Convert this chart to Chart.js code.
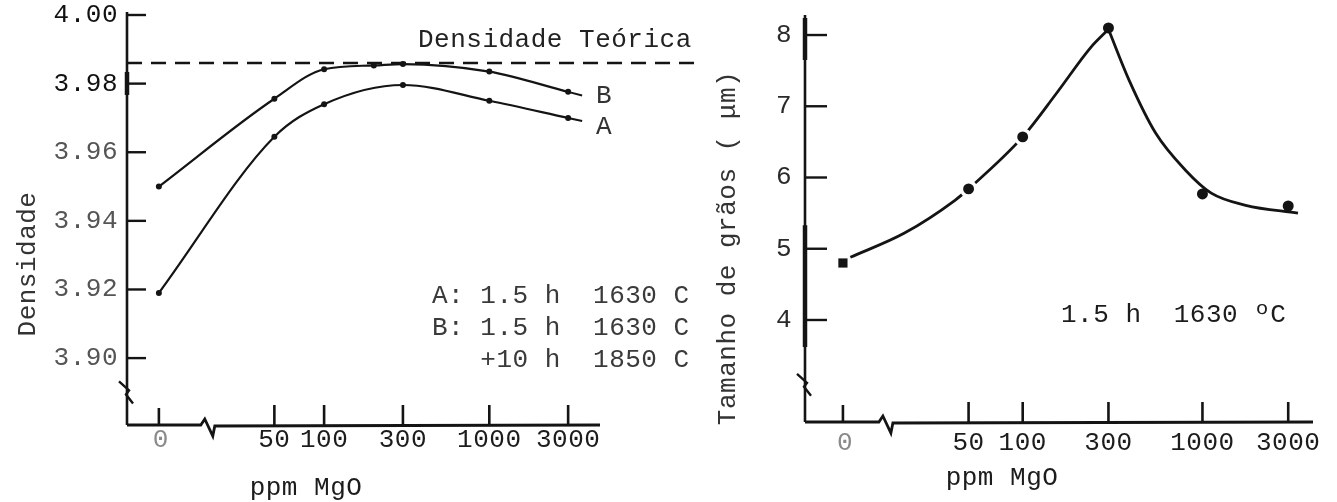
<!DOCTYPE html>
<html>
<head>
<meta charset="utf-8">
<script src="https://cdn.jsdelivr.net/npm/chart.js@4.4.1/dist/chart.umd.min.js"></script>
<style>
  body { margin: 0; background: #fff; width: 1337px; height: 502px; position: relative; overflow: hidden; }
  #densidade { position: absolute; left: 0; top: 0; }
  #grao { position: absolute; left: 668px; top: 0; }
</style>
</head>
<body>
<canvas id="densidade" width="720" height="502"></canvas>
<canvas id="grao" width="669" height="502"></canvas>
<script>
// ppm MgO on a broken log axis: 0 ppm sits where 10 ppm would be
const ppmTicks = [0, 50, 100, 300, 1000, 3000];

// density, curve A (1.5 h 1630 C) and curve B (+10 h 1850 C)
const ppmA = [0, 50, 100, 300, 1000, 3000];
const densA = [3.919, 3.9645, 3.974, 3.9796, 3.975, 3.970];
const ppmB = [0, 50, 100, 200, 300, 1000, 3000];
const densB = [3.950, 3.9756, 3.9842, 3.9853, 3.9857, 3.9835, 3.9776];
const densTeorica = 3.986;
const densTicks = [3.90, 3.92, 3.94, 3.96, 3.98, 4.00];

// grain size (um)
const ppmGrao = [0, 50, 100, 300, 1000, 3000];
const grao = [4.80, 5.84, 6.57, 8.10, 5.77, 5.60];
const graoTicks = [4, 5, 6, 7, 8];
// hand-drawn trend curve, rising and falling branches
const subidaPpm = [11, 22, 42, 50, 100, 155, 240, 300];
const subida = [4.88, 5.22, 5.68, 5.84, 6.57, 7.19, 7.83, 8.08];
const descidaPpm = [300, 390, 550, 800, 1120, 1740, 3400];
const descida = [8.08, 7.37, 6.62, 6.11, 5.78, 5.61, 5.50];

const pos = (p) => (p === 0 ? 1 : Math.log10(p));
const pontos = (xs, ys) => xs.map((p, i) => ({ x: pos(p), y: ys[i] }));

const FONTE = '26px "Liberation Mono", monospace';
const TINTA = '#141414';

function texto(ctx, str, x, y, align = 'left', cor = '#222', rot = 0) {
  ctx.save();
  ctx.translate(x, y);
  if (rot) ctx.rotate(rot);
  ctx.font = FONTE;
  if ('letterSpacing' in ctx) ctx.letterSpacing = '0.5px';
  ctx.fillStyle = cor;
  ctx.textAlign = align;
  ctx.textBaseline = 'middle';
  ctx.fillText(str, 0, 0);
  ctx.restore();
}

function traco(ctx, pts, w = 2.6) {
  ctx.beginPath();
  ctx.lineWidth = w;
  pts.forEach(([px, py], i) => (i ? ctx.lineTo(px, py) : ctx.moveTo(px, py)));
  ctx.stroke();
}

// axes with inward ticks and break marks, drawn by hand
const eixos = {
  id: 'eixos',
  afterDatasetsDraw(chart, args, o) {
    const { ctx, chartArea: a, scales: { x, y } } = chart;
    ctx.save();
    ctx.strokeStyle = TINTA;
    ctx.lineCap = 'butt';
    const x0 = a.left, y0 = a.bottom;

    // y axis
    traco(ctx, [[x0, a.top - 3], [x0, y0]]);
    (o.grosso || []).forEach(([v1, v2]) => traco(ctx, [[x0, y.getPixelForValue(v1)], [x0, y.getPixelForValue(v2)]], 4.5));
    const qy = y.getPixelForValue(o.quebraY);
    traco(ctx, [[x0 - 8, qy - 11], [x0 + 2, qy - 2], [x0 - 1, qy + 2], [x0 + 6, qy + 11]], 2.4);

    // x axis
    const qx = x.getPixelForValue(o.quebraX);
    traco(ctx, [[x0, y0], [qx - 7, y0], [qx - 3, y0 - 6], [qx + 5, y0 + 11], [qx + 7, y0 + 1], [a.right, y0]], 2.8);

    o.yTicks.forEach((v) => {
      const py = y.getPixelForValue(v);
      traco(ctx, [[x0, py], [x0 + o.yTickLen, py]], 2.4);
      texto(ctx, o.yFmt(v), x0 + o.yLabelDx, py, 'right', o.yCor(v));
    });
    o.xTicks.forEach((p) => {
      const px = x.getPixelForValue(pos(p));
      traco(ctx, [[px, y0], [px, y0 - (p === 0 ? o.xTickLen - 3 : o.xTickLen)]], 2.6);
      texto(ctx, String(p), px + (p === 0 ? 2 : 0), y0 + o.xLabelDy, 'center', p === 0 ? '#8a8a8a' : '#1c1c1c');
    });

    texto(ctx, 'ppm MgO', o.xTitulo[0], o.xTitulo[1], 'center', '#1c1c1c');
    texto(ctx, o.yTitulo.txt, o.yTitulo.x, o.yTitulo.y, 'center', '#333', -Math.PI / 2);
    ctx.restore();
  },
};

// theoretical density, curve labels and the run conditions
const anotDensidade = {
  id: 'anotDensidade',
  beforeDatasetsDraw(chart) {
    const { ctx, chartArea: a, scales: { y } } = chart;
    ctx.save();
    ctx.strokeStyle = TINTA;
    ctx.setLineDash([15, 9]);
    const py = y.getPixelForValue(densTeorica);
    traco(ctx, [[a.left, py], [chart.width - 25, py]], 2.6);
    ctx.restore();
  },
  afterDatasetsDraw(chart) {
    const { ctx } = chart;
    ctx.save();
    ctx.strokeStyle = TINTA;
    ['A', 'B'].forEach((nome, k) => {
      const pts = chart.getDatasetMeta(k).data;
      const p = pts[pts.length - 1], q = pts[pts.length - 2];
      const s = (p.y - q.y) / (p.x - q.x);
      traco(ctx, [[p.x, p.y], [p.x + 14, p.y + 14 * s]], 2);
      texto(ctx, nome, p.x + 36, p.y + (nome === 'A' ? 9 : 4), 'center', '#333');
    });
    texto(ctx, 'Densidade Teórica', 418, 40, 'left', '#222');
    texto(ctx, 'A: 1.5 h  1630 C', 432, 296, 'left', '#3a3a3a');
    texto(ctx, 'B: 1.5 h  1630 C', 432, 328, 'left', '#3a3a3a');
    texto(ctx, '   +10 h  1850 C', 432, 360, 'left', '#3a3a3a');
    ctx.restore();
  },
};

const anotGrao = {
  id: 'anotGrao',
  afterDatasetsDraw(chart) {
    texto(chart.ctx, '1.5 h  1630 ºC', 393, 315, 'left', '#1c1c1c');
  },
};

const base = {
  responsive: false,
  animation: false,
  events: [],
};

new Chart(document.getElementById('densidade'), {
  type: 'line',
  data: {
    datasets: [
      { label: 'A', data: pontos(ppmA, densA) },
      { label: 'B', data: pontos(ppmB, densB) },
    ].map((d) => ({
      ...d,
      borderColor: TINTA,
      borderWidth: 2.2,
      pointRadius: 3,
      pointBackgroundColor: TINTA,
      pointBorderWidth: 0,
      cubicInterpolationMode: 'monotone',
    })),
  },
  options: {
    ...base,
    layout: { padding: { left: 127, top: 15, right: 120, bottom: 77 } },
    scales: {
      x: { type: 'linear', display: false, min: 0.807, max: 3.67 },
      y: { type: 'linear', display: false, min: 3.8805, max: 4.0 },
    },
    plugins: {
      legend: { display: false },
      tooltip: { enabled: false },
      eixos: {
        yTicks: densTicks,
        yFmt: (v) => v.toFixed(2),
        yCor: (v) => (v >= 3.98 ? '#111' : '#555'),
        yTickLen: 19,
        yLabelDx: -9,
        xTicks: ppmTicks,
        xTickLen: 20,
        xLabelDy: 15,
        quebraX: 1.296,
        quebraY: 3.890,
        grosso: [[3.9767, 3.9834]],
        xTitulo: [306, 488],
        yTitulo: { txt: 'Densidade', x: 28, y: 264 },
      },
    },
  },
  plugins: [anotDensidade, eixos],
});

new Chart(document.getElementById('grao'), {
  type: 'line',
  data: {
    datasets: [
      {
        data: pontos(ppmGrao, grao),
        showLine: false,
        pointStyle: ['rect', 'circle', 'circle', 'circle', 'circle', 'circle'],
        pointRadius: [6.5, 7.2, 7.2, 5.5, 5.5, 5.5],
        pointBackgroundColor: TINTA,
        pointBorderColor: '#fff',
        pointBorderWidth: [0, 3.5, 3.5, 0, 0, 0],
      },
      { data: pontos(subidaPpm, subida) },
      { data: pontos(descidaPpm, descida) },
    ].map((d, i) => (i === 0 ? d : {
      ...d,
      borderColor: TINTA,
      borderWidth: 2.8,
      pointRadius: 0,
      cubicInterpolationMode: 'monotone',
    })),
  },
  options: {
    ...base,
    layout: { padding: { left: 137, top: 18, right: 24, bottom: 80 } },
    scales: {
      x: { type: 'linear', display: false, min: 0.789, max: 3.615 },
      y: { type: 'linear', display: false, min: 2.568, max: 8.239 },
    },
    plugins: {
      legend: { display: false },
      tooltip: { enabled: false },
      eixos: {
        yTicks: graoTicks,
        yFmt: String,
        yCor: () => '#2a2a2a',
        yTickLen: 22,
        yLabelDx: -13,
        xTicks: ppmTicks,
        xTickLen: 20,
        xLabelDy: 21,
        quebraX: 1.239,
        quebraY: 3.09,
        grosso: [[7.65, 8.239], [3.62, 5.33]],
        xTitulo: [334, 478],
        yTitulo: { txt: 'Tamanho de grãos ( μm)', x: 60, y: 248 },
      },
    },
  },
  plugins: [anotGrao, eixos],
});
</script>
</body>
</html>
